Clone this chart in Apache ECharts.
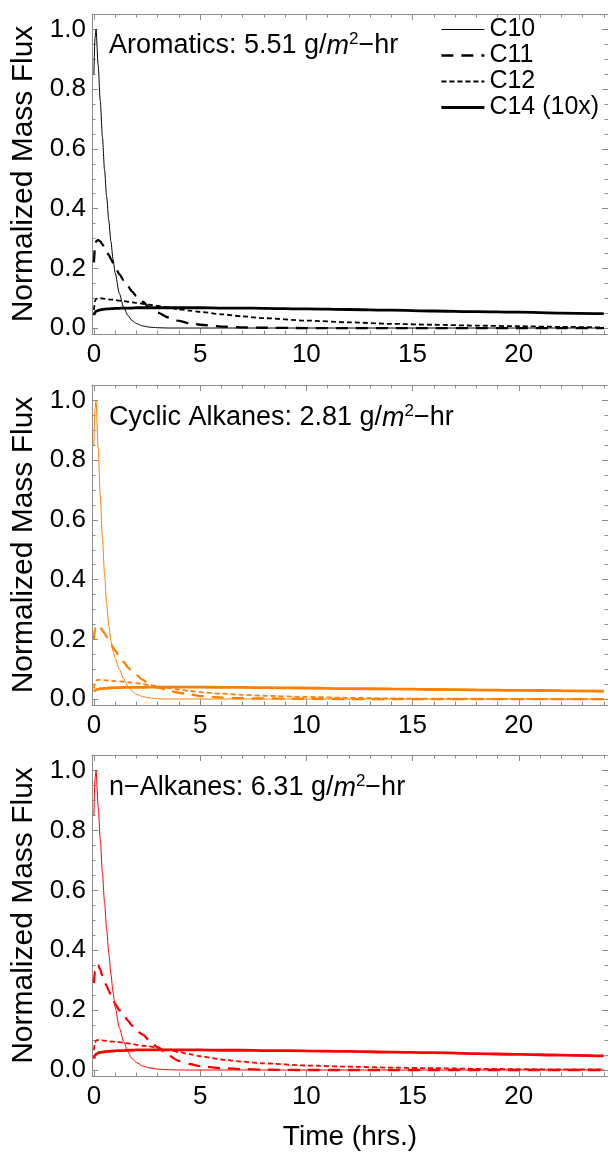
<!DOCTYPE html>
<html>
<head>
<meta charset="utf-8">
<script src="https://cdn.jsdelivr.net/npm/echarts@6/dist/echarts.min.js"></script>
<style>
  html, body { margin: 0; padding: 0; background: #fff; }
  #chart { width: 608px; height: 1152px; }
</style>
</head>
<body>
<div id="chart"></div>
<script>
// Sample times (hours) shared by every curve
const timeHrs = [0, 0.05, 0.1, 0.2, 0.3, 0.4, 0.5, 0.6, 0.7, 0.8, 0.9, 1.0, 1.2, 1.4, 1.6, 1.8, 2.0, 2.3, 2.6, 3.0,
                 3.5, 4, 4.5, 5, 6, 7, 8, 10, 12, 14, 16, 18, 20, 22, 24];

// Aromatics
const aroC10 = [0.85, 0.97, 1.0, 0.88, 0.76, 0.64, 0.53, 0.44, 0.36, 0.29, 0.23, 0.185, 0.115, 0.07, 0.042, 0.025, 0.015, 0.007, 0.003, 0.001,
                0, 0, 0, 0, 0, 0, 0, 0, 0, 0, 0, 0, 0, 0, 0];
const aroC11 = [0.22, 0.27, 0.29, 0.295, 0.29, 0.28, 0.27, 0.255, 0.245, 0.232, 0.218, 0.205, 0.18, 0.16, 0.14, 0.122, 0.107, 0.088, 0.07, 0.052,
                0.036, 0.024, 0.016, 0.011, 0.005, 0.002, 0.001, 0, 0, 0, 0, 0, 0, 0, 0];
const aroC12 = [0.06, 0.09, 0.098, 0.1, 0.1, 0.099, 0.098, 0.097, 0.096, 0.095, 0.095, 0.094, 0.092, 0.09, 0.088, 0.086, 0.084, 0.081, 0.078, 0.074,
                0.069, 0.063, 0.058, 0.054, 0.046, 0.039, 0.033, 0.025, 0.019, 0.014, 0.011, 0.008, 0.006, 0.004, 0.002];
const aroC14 = [0.043, 0.052, 0.056, 0.059, 0.061, 0.062, 0.063, 0.064, 0.064, 0.065, 0.065, 0.066, 0.066, 0.067, 0.067, 0.067, 0.068, 0.068, 0.068, 0.068,
                0.068, 0.068, 0.068, 0.068, 0.067, 0.067, 0.066, 0.064, 0.062, 0.06, 0.057, 0.055, 0.053, 0.05, 0.048];

// Cyclic alkanes
const cycC10 = [0.85, 0.97, 1.0, 0.84, 0.68, 0.54, 0.42, 0.32, 0.245, 0.195, 0.16, 0.135, 0.1, 0.068, 0.043, 0.027, 0.016, 0.008, 0.004, 0.001,
                0, 0, 0, 0, 0, 0, 0, 0, 0, 0, 0, 0, 0, 0, 0];
const cycC11 = [0.2, 0.235, 0.245, 0.248, 0.24, 0.23, 0.22, 0.208, 0.196, 0.184, 0.173, 0.162, 0.143, 0.124, 0.106, 0.092, 0.08, 0.064, 0.05, 0.038,
                0.029, 0.021, 0.016, 0.01, 0.005, 0.003, 0.002, 0.001, 0, 0, 0, 0, 0, 0, 0];
const cycC12 = [0.035, 0.055, 0.062, 0.064, 0.064, 0.063, 0.063, 0.062, 0.062, 0.061, 0.06, 0.06, 0.059, 0.058, 0.056, 0.055, 0.053, 0.05, 0.047, 0.043,
                0.037, 0.032, 0.027, 0.023, 0.018, 0.014, 0.011, 0.007, 0.004, 0.002, 0.001, 0.001, 0, 0, 0];
const cycC14 = [0.025, 0.029, 0.031, 0.033, 0.035, 0.035, 0.036, 0.036, 0.037, 0.037, 0.038, 0.038, 0.038, 0.039, 0.039, 0.039, 0.039, 0.039, 0.04, 0.04,
                0.04, 0.04, 0.04, 0.04, 0.039, 0.039, 0.038, 0.037, 0.035, 0.034, 0.032, 0.031, 0.029, 0.028, 0.026];

// n-Alkanes
const nalkC10 = [0.85, 0.97, 1.0, 0.88, 0.77, 0.66, 0.56, 0.47, 0.39, 0.32, 0.26, 0.21, 0.14, 0.095, 0.06, 0.038, 0.025, 0.013, 0.007, 0.003,
                 0.001, 0, 0, 0, 0, 0, 0, 0, 0, 0, 0, 0, 0, 0, 0];
const nalkC11 = [0.29, 0.33, 0.35, 0.35, 0.335, 0.315, 0.295, 0.28, 0.265, 0.25, 0.235, 0.22, 0.2, 0.183, 0.165, 0.148, 0.132, 0.118, 0.1, 0.076,
                 0.049, 0.03, 0.02, 0.013, 0.006, 0.003, 0.001, 0, 0, 0, 0, 0, 0, 0, 0];
const nalkC12 = [0.066, 0.09, 0.099, 0.1, 0.1, 0.099, 0.098, 0.097, 0.096, 0.095, 0.095, 0.094, 0.093, 0.091, 0.089, 0.087, 0.084, 0.081, 0.079, 0.073,
                 0.067, 0.06, 0.053, 0.046, 0.035, 0.028, 0.022, 0.015, 0.011, 0.008, 0.006, 0.004, 0.003, 0.002, 0.002];
const nalkC14 = [0.038, 0.048, 0.053, 0.057, 0.059, 0.06, 0.061, 0.062, 0.062, 0.063, 0.063, 0.064, 0.065, 0.065, 0.066, 0.066, 0.067, 0.067, 0.067, 0.067,
                 0.067, 0.067, 0.067, 0.067, 0.066, 0.066, 0.065, 0.064, 0.062, 0.06, 0.058, 0.055, 0.052, 0.05, 0.047];

const speciesNames = ['C10', 'C11', 'C12', 'C14 (10x)'];
const panelLabels = [
  'Aromatics: 5.51 g/{i|m}{s|2}\u2212hr',
  'Cyclic Alkanes: 2.81 g/{i|m}{s|2}\u2212hr',
  'n\u2212Alkanes: 6.31 g/{i|m}{s|2}\u2212hr'
];
const panelColors = ['#000000', '#ff8000', '#ff0000'];
const panelPrefixes = ['', 'Cyclic ', 'n-Alkane '];
const panelData = [
  [aroC10, aroC11, aroC12, aroC14],
  [cycC10, cycC11, cycC12, cycC14],
  [nalkC10, nalkC11, nalkC12, nalkC14]
];

const xMajor = [0, 5, 10, 15, 20];
const yMajor = [0, 0.2, 0.4, 0.6, 0.8, 1.0];

// ---- layout / style ----
const FONT = '"Liberation Sans", Arial, Helvetica, sans-serif';
const AXIS_GRAY = '#8c8c8c';
const X_MIN = -0.09, X_MAX = 24.2;
const Y_MIN = -0.02, Y_MAX = 1.052;
const gridTops = [14, 385, 755];
const gridHeights = [320, 320, 321];
const titleTops = [31, 403, 773];

const xMinor = [];
for (let v = 1; v <= 24; v++) if (v % 5 !== 0) xMinor.push(v);
const yMinor = [];
for (let k = 1; k <= 20; k++) if (k % 4 !== 0) yMinor.push(+(k * 0.05).toFixed(2));

const lineStyles = [
  { width: 1, type: 'solid' },
  { width: 2.3, type: [12, 8] },
  { width: 1.8, type: [5, 3] },
  { width: 2.8, type: 'solid' }
];

const grids = [], xAxes = [], yAxes = [], series = [];

for (let g = 0; g < 3; g++) {
  grids.push({ left: 92, right: -3, top: gridTops[g], height: gridHeights[g], containLabel: false });

  const xBase = {
    type: 'value', gridIndex: g, min: X_MIN, max: X_MAX,
    splitLine: { show: false },
    axisLine: { show: true, onZero: false, lineStyle: { color: AXIS_GRAY, width: 1 } },
    axisLabel: { show: false },
    axisPointer: { show: false }
  };
  const isLast = g === 2;
  // bottom: major ticks + labels
  xAxes.push(Object.assign({}, xBase, {
    position: 'bottom',
    axisTick: { show: true, inside: true, length: 6, customValues: xMajor, lineStyle: { color: AXIS_GRAY } },
    axisLabel: { show: true, customValues: xMajor, fontSize: 26, color: '#000', margin: 8, fontFamily: FONT },
    name: isLast ? 'Time (hrs.)' : '',
    nameLocation: 'middle', nameGap: 47,
    nameTextStyle: { fontSize: 28, color: '#000', fontFamily: FONT }
  }));
  // bottom: minor ticks
  xAxes.push(Object.assign({}, xBase, {
    position: 'bottom',
    axisLine: { show: false, onZero: false },
    axisTick: { show: true, inside: true, length: 3.5, customValues: xMinor, lineStyle: { color: AXIS_GRAY } }
  }));
  // top frame: major + minor ticks
  xAxes.push(Object.assign({}, xBase, {
    position: 'top',
    axisTick: { show: true, inside: true, length: 6, customValues: xMajor, lineStyle: { color: AXIS_GRAY } }
  }));
  xAxes.push(Object.assign({}, xBase, {
    position: 'top',
    axisLine: { show: false, onZero: false },
    axisTick: { show: true, inside: true, length: 3.5, customValues: xMinor, lineStyle: { color: AXIS_GRAY } }
  }));

  const yBase = {
    type: 'value', gridIndex: g, min: Y_MIN, max: Y_MAX,
    splitLine: { show: false },
    axisLine: { show: true, onZero: false, lineStyle: { color: AXIS_GRAY, width: 1 } },
    axisLabel: { show: false },
    axisPointer: { show: false }
  };
  yAxes.push(Object.assign({}, yBase, {
    position: 'left',
    axisTick: { show: true, inside: true, length: 6, customValues: yMajor, lineStyle: { color: AXIS_GRAY } },
    axisLabel: { show: true, customValues: yMajor, fontSize: 26, color: '#000', margin: 6, fontFamily: FONT,
                 formatter: v => v.toFixed(1) },
    name: 'Normalized Mass Flux', nameLocation: 'middle', nameGap: 52,
    nameTextStyle: { fontSize: 30, color: '#000', fontFamily: FONT }
  }));
  yAxes.push(Object.assign({}, yBase, {
    position: 'left',
    axisLine: { show: false, onZero: false },
    axisTick: { show: true, inside: true, length: 3.5, customValues: yMinor, lineStyle: { color: AXIS_GRAY } }
  }));
  yAxes.push(Object.assign({}, yBase, {
    position: 'right',
    axisTick: { show: true, inside: true, length: 6, customValues: yMajor, lineStyle: { color: AXIS_GRAY } }
  }));
  yAxes.push(Object.assign({}, yBase, {
    position: 'right',
    axisLine: { show: false, onZero: false },
    axisTick: { show: true, inside: true, length: 3.5, customValues: yMinor, lineStyle: { color: AXIS_GRAY } }
  }));

  // curves of this panel
  panelData[g].forEach((vals, s) => {
    series.push({
      name: panelPrefixes[g] + speciesNames[s],
      type: 'line',
      xAxisIndex: g * 4,
      yAxisIndex: g * 4,
      data: timeHrs.map((t, j) => [t, vals[j]]),
      symbol: 'none',
      showSymbol: false,
      smooth: 0.25,
      smoothMonotone: 'x',
      silent: true,
      animation: false,
      z: 3 + s,
      itemStyle: { color: panelColors[g] },
      lineStyle: { color: panelColors[g], width: lineStyles[s].width, type: lineStyles[s].type, cap: 'butt' }
    });
  });
}

const chart = echarts.init(document.getElementById('chart'), null, { renderer: 'canvas' });
chart.setOption({
  animation: false,
  backgroundColor: '#ffffff',
  textStyle: { fontFamily: FONT },
  grid: grids,
  xAxis: xAxes,
  yAxis: yAxes,
  title: panelLabels.map((lab, i) => ({
    text: lab,
    left: 109,
    top: titleTops[i],
    padding: 0,
    textStyle: {
      fontSize: 27, fontWeight: 'normal', color: '#000', fontFamily: FONT, lineHeight: 30,
      rich: {
        i: { fontSize: 27, fontStyle: 'italic', color: '#000', fontFamily: FONT, lineHeight: 30 },
        s: { fontSize: 17, color: '#000', fontFamily: FONT, verticalAlign: 'top', lineHeight: 17 }
      }
    }
  })),
  legend: {
    data: speciesNames.map((n, s) => ({
      name: n,
      lineStyle: { width: lineStyles[s].width, type: lineStyles[s].type, color: '#000' }
    })),
    orient: 'vertical',
    left: 440,
    top: 17,
    padding: 0,
    itemWidth: 43,
    itemHeight: 14,
    itemGap: 1,
    selectedMode: false,
    itemStyle: { opacity: 0 },
    textStyle: { fontSize: 25, lineHeight: 25, color: '#000', fontFamily: FONT }
  },
  series: series
});
</script>
</body>
</html>
